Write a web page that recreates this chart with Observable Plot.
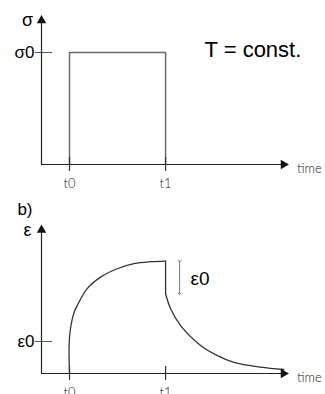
<!DOCTYPE html>
<html>
<head>
<meta charset="utf-8">
<script src="https://cdn.jsdelivr.net/npm/d3@7"></script>
<script src="https://cdn.jsdelivr.net/npm/@observablehq/plot@0.6"></script>
<style>
  html, body { margin: 0; padding: 0; background: #fff; }
  #chart svg { display: block; }
</style>
</head>
<body>
<div id="chart"></div>
<script>
// ---- data (time in arbitrary units, t0 = 1) ----
const tickTimes = [1, 4.43];
const tickLabels = ["t0", "t1"];
const timeEnd = 8.64;

// panel a: stress step
const stressTime = [1, 1, 4.43, 4.43];
const stressValue = [0, 1, 1, 0];       // in units of σ0
const sigmaTop = 1.286;

// panel b: strain (units of ε0)
const creepTime  = [1, 1, 1.15, 1.275, 1.63, 2.11, 2.70, 3.30, 3.89, 4.43];
const creepValue = [0, 1.13, 1.87, 2.12, 2.65, 3.01, 3.27, 3.43, 3.49, 3.51];
const dropTime  = [4.43, 4.43];
const dropValue = [3.51, 2.49];
const recovTime  = [4.43, 4.61, 4.96, 5.68, 6.28, 6.87, 7.82, 8.65];
const recovValue = [2.49, 2.02, 1.50, 0.875, 0.56, 0.35, 0.20, 0.125];
const epsTop = 4.48;

const sansFont = "Liberation Sans, Arial, sans-serif";
const lightFont = "Lato, Open Sans, sans-serif";
const axisColor = "#222";

function axesMarks(yTop, tickHalf) {
  return [
    Plot.ruleY([0], {x1: 0, x2: timeEnd, stroke: axisColor, strokeWidth: 1.2}),
    Plot.ruleX([0], {y1: 0, y2: yTop, stroke: axisColor, strokeWidth: 1.2}),
    Plot.dot([[timeEnd, 0]], {x: d => d[0], y: d => d[1], symbol: "triangle", r: 3.5, fill: "#111", stroke: "none", rotate: 90}),
    Plot.dot([[0, yTop]], {x: d => d[0], y: d => d[1], symbol: "triangle", r: 3.5, fill: "#111", stroke: "none"}),
    Plot.ruleX(tickTimes, {y1: -tickHalf, y2: tickHalf, stroke: "#333", strokeWidth: 1.2}),
    Plot.text(tickTimes, {x: d => d, y: 0, text: (d, i) => tickLabels[i], dy: 19, fontSize: 13, fontFamily: lightFont, fontWeight: 300, fill: "#222"}),
    Plot.text(["time"], {x: 9.12, y: 0, text: d => d, dy: 4, textAnchor: "start", fontSize: 13, fontFamily: lightFont, fontWeight: 300, fill: "#222"})
  ];
}

const panelA = Plot.plot({
  width: 325, height: 195,
  marginLeft: 41, marginRight: 42, marginTop: 20, marginBottom: 31,
  x: {domain: [0, timeEnd], axis: null},
  y: {domain: [0, sigmaTop], axis: null},
  style: {overflow: "visible"},
  marks: [
    Plot.line(stressTime.map((t, i) => [t, stressValue[i]]), {x: d => d[0], y: d => d[1], stroke: "#6b6b6b", strokeWidth: 1.5}),
    Plot.ruleY([1], {x1: -0.214, x2: 0.393, stroke: "#555", strokeWidth: 1}),
    ...axesMarks(sigmaTop, 0.0625),
    Plot.text(["σ"], {x: -0.5, y: sigmaTop, text: d => d, fontSize: 18, fontFamily: sansFont, fill: "#000"}),
    Plot.text(["σ0"], {x: -0.25, y: 1, text: d => d, textAnchor: "end", fontSize: 17, fontFamily: sansFont, fill: "#000"}),
    Plot.text(["T = const."], {x: 5.82, y: 1.02, text: d => d, textAnchor: "start", fontSize: 22, fontFamily: sansFont, fill: "#000"})
  ]
});

const panelB = Plot.plot({
  width: 325, height: 199,
  marginLeft: 41, marginRight: 42, marginTop: 34.5, marginBottom: 21,
  x: {domain: [0, timeEnd], axis: null},
  y: {domain: [0, epsTop], axis: null},
  style: {overflow: "visible"},
  marks: [
    Plot.line(creepTime.map((t, i) => [t, creepValue[i]]), {x: d => d[0], y: d => d[1], curve: "catmull-rom", stroke: "#333", strokeWidth: 1.3}),
    Plot.line(dropTime.map((t, i) => [t, dropValue[i]]), {x: d => d[0], y: d => d[1], stroke: "#333", strokeWidth: 1.3}),
    Plot.line(recovTime.map((t, i) => [t, recovValue[i]]), {x: d => d[0], y: d => d[1], curve: "catmull-rom", stroke: "#333", strokeWidth: 1.3}),
    Plot.ruleY([1], {x1: -0.214, x2: 0.393, stroke: "#555", strokeWidth: 1}),
    ...axesMarks(epsTop, 0.22),
    Plot.link([[4.93, 3.51, 4.93, 2.49]], {x1: d => d[0], y1: d => d[1], x2: d => d[2], y2: d => d[3], stroke: "#555", strokeWidth: 0.8, markerStart: "arrow", markerEnd: "arrow"}),
    Plot.text(["ε0"], {x: 5.32, y: 2.95, text: d => d, textAnchor: "start", fontSize: 19, fontFamily: sansFont, fill: "#000"}),
    Plot.text(["ε"], {x: -0.5, y: epsTop, text: d => d, fontSize: 18, fontFamily: sansFont, fill: "#000"}),
    Plot.text(["ε0"], {x: -0.25, y: 1, text: d => d, textAnchor: "end", fontSize: 17, fontFamily: sansFont, fill: "#000"}),
    Plot.text(["b)"], {x: -0.86, y: epsTop, text: d => d, dy: -20, textAnchor: "start", fontSize: 17, fontFamily: sansFont, fill: "#000"})
  ]
});

const chart = document.getElementById("chart");
chart.appendChild(panelA);
chart.appendChild(panelB);
</script>
</body>
</html>
